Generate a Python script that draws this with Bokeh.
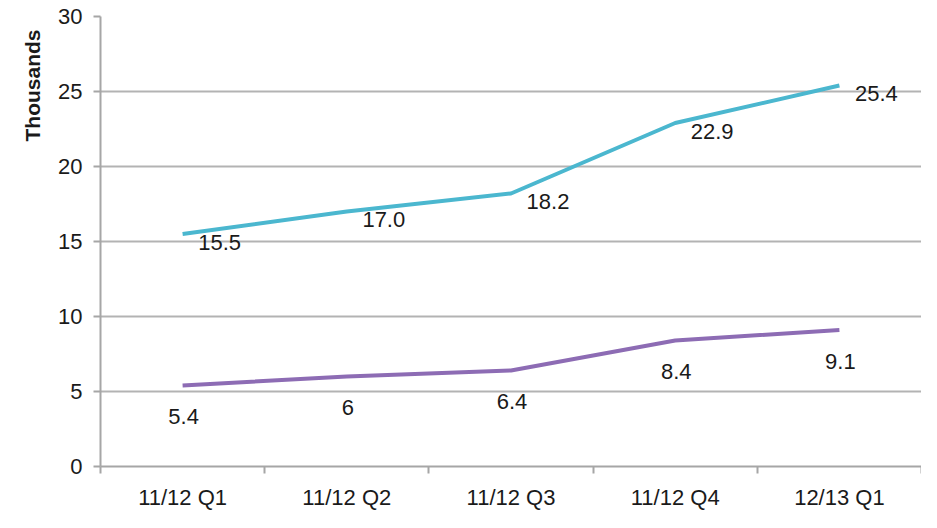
from bokeh.plotting import figure
from bokeh.models import ColumnDataSource, FixedTicker, Range1d, LabelSet, Title
from bokeh.core.properties import value
from bokeh.embed import file_html
from bokeh.resources import INLINE

categories = ["11/12 Q1", "11/12 Q2", "11/12 Q3", "11/12 Q4", "12/13 Q1"]
series_a = [15.5, 17.0, 18.2, 22.9, 25.4]
series_a_labels = ["15.5", "17.0", "18.2", "22.9", "25.4"]
series_b = [5.4, 6.0, 6.4, 8.4, 9.1]
series_b_labels = ["5.4", "6", "6.4", "8.4", "9.1"]
y_ticks = [0, 5, 10, 15, 20, 25, 30]
y_title = "Thousands"

FONT = "Liberation Sans"
FS = "22px"
TXT = "#1a1a1a"
xs = [i + 0.5 for i in range(len(categories))]

p = figure(width=921, height=512, output_backend="svg", toolbar_location=None,
           x_range=Range1d(0, len(categories)), y_range=Range1d(0, 30),
           min_border_left=100, min_border_right=0, min_border_top=16, min_border_bottom=36)
p.outline_line_color = None
p.background_fill_color = "white"

src_a = ColumnDataSource(dict(x=xs, y=series_a, t=series_a_labels))
src_b = ColumnDataSource(dict(x=xs, y=series_b, t=series_b_labels))

p.line("x", "y", source=src_a, line_color="#4bb7cf", line_width=4)
p.line("x", "y", source=src_b, line_color="#8d6cb4", line_width=4)

p.add_layout(LabelSet(x="x", y="y", text="t", source=src_a, x_offset=37, y_offset=-8,
                      text_align="center", text_baseline="middle",
                      text_font=value(FONT), text_font_size=FS, text_color=TXT))
p.add_layout(LabelSet(x="x", y="y", text="t", source=src_b, x_offset=1, y_offset=-31,
                      text_align="center", text_baseline="middle",
                      text_font=value(FONT), text_font_size=FS, text_color=TXT))

# y-axis title at the top end of the left side
p.add_layout(Title(text=y_title, align="right", offset=13, standoff=23,
                   text_font=FONT, text_font_size="21px", text_font_style="bold",
                   text_color=TXT), "left")

# x axis
p.xaxis.ticker = FixedTicker(ticks=xs, minor_ticks=list(range(len(categories) + 1)))
p.xaxis.major_label_overrides = {x: c for x, c in zip(xs, categories)}
p.xaxis.major_tick_out = 0
p.xaxis.major_tick_in = 0
p.xaxis.minor_tick_out = 7
p.xaxis.minor_tick_in = 0
p.xaxis.minor_tick_line_color = "#a6a6a6"
p.xaxis.minor_tick_line_width = 2
p.xaxis.axis_line_color = "#a6a6a6"
p.xaxis.axis_line_width = 2
p.xaxis.major_label_text_font = FONT
p.xaxis.major_label_text_font_size = FS
p.xaxis.major_label_text_color = TXT
p.xaxis.major_label_standoff = 11

# y axis
p.yaxis.ticker = FixedTicker(ticks=y_ticks, minor_ticks=[])
p.yaxis.major_tick_out = 7
p.yaxis.major_tick_in = 0
p.yaxis.major_tick_line_color = "#a6a6a6"
p.yaxis.major_tick_line_width = 2
p.yaxis.axis_line_color = "#a6a6a6"
p.yaxis.axis_line_width = 2
p.yaxis.major_label_text_font = FONT
p.yaxis.major_label_text_font_size = FS
p.yaxis.major_label_text_color = TXT
p.yaxis.major_label_standoff = 11

p.xgrid.grid_line_color = None
p.ygrid.ticker = FixedTicker(ticks=y_ticks)
p.ygrid.grid_line_color = "#b3b3b3"
p.ygrid.grid_line_width = 2

open("out.html", "w").write(file_html(p, INLINE))
